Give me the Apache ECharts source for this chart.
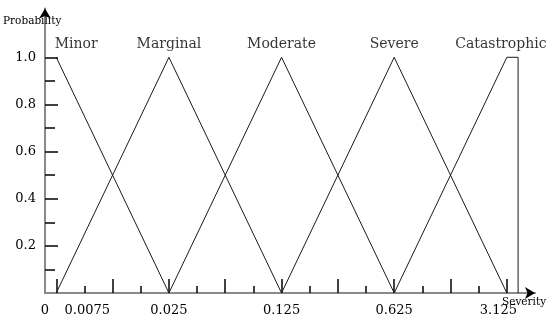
<!DOCTYPE html>
<html><head><meta charset="utf-8">
<script src="https://cdn.jsdelivr.net/npm/echarts@6/dist/echarts.min.js"></script>
<style>html,body{margin:0;padding:0;background:#fff}#c{width:550px;height:320px}</style>
</head><body><div id="c"></div>
<script>
const categories = ['Minor', 'Marginal', 'Moderate', 'Severe', 'Catastrophic'];
const peakX = [0, 4, 8, 12, 16];
const peakY = [1, 1, 1, 1, 1];
const minorPts = [[0, 1], [4, 0]];
const marginalPts = [[0, 0], [4, 1], [8, 0]];
const moderatePts = [[4, 0], [8, 1], [12, 0]];
const severePts = [[8, 0], [12, 1], [16, 0]];
const catastrophicPts = [[12, 0], [16, 1], [16.4, 1], [16.4, 0]];
const xTickLabels = ['0', '0.0075', '0.025', '0.125', '0.625', '3.125'];
const xTickLabelPos = [-0.4, 1.1, 4, 8, 12, 15.7];
const xMajorTicks = [0, 2, 4, 6, 8, 10, 12, 14, 16];
const xMinorTicks = [1, 3, 5, 7, 9, 11, 13, 15];
const yTickLabels = [0.2, 0.4, 0.6, 0.8, 1.0];
const yMajorTicks = [0.2, 0.4, 0.6, 0.8, 1.0];
const yMinorTicks = [0.1, 0.3, 0.5, 0.7, 0.9];

const FONT = 'DejaVu Serif';
const chart = echarts.init(document.getElementById('c'), null, {renderer: 'canvas'});
const XMIN = -0.4, XMAX = 17, YMIN = 0, YMAX = 1.207;
const labelOffsets = [[20, 0], [0, 0], [0, 0], [0, 0], [-6, 0]];

function lineSeries(name, pts) {
  return {
    type: 'line', name: name, data: pts, symbol: 'none', animation: false,
    lineStyle: {color: '#1a1a1a', width: 1}, z: 3
  };
}

const option = {
  animation: false,
  backgroundColor: '#fff',
  grid: {left: 45, right: 15, top: 8.5, bottom: 27},
  xAxis: [{
    type: 'value', min: XMIN, max: XMAX, position: 'bottom',
    splitLine: {show: false},
    axisLine: {show: true, onZero: false, lineStyle: {color: '#8a8a8a', width: 2}},
    axisTick: {show: true, inside: true, length: 14, customValues: xMajorTicks, lineStyle: {color: '#111', width: 1.6}},
    axisLabel: {
      show: true, customValues: xTickLabelPos, margin: 11,
      fontFamily: FONT, fontSize: 13, color: '#000',
      formatter: function (v) {
        for (let i = 0; i < xTickLabelPos.length; i++) if (Math.abs(v - xTickLabelPos[i]) < 1e-6) return xTickLabels[i];
        return '';
      }
    }
  }, {
    type: 'value', min: XMIN, max: XMAX, position: 'bottom',
    splitLine: {show: false},
    axisLine: {show: true, onZero: false, symbol: ['none', 'arrow'], symbolSize: [9, 10], lineStyle: {color: '#000', width: 0}},
    axisTick: {show: true, inside: true, length: 7, customValues: xMinorTicks, lineStyle: {color: '#111', width: 1.6}},
    axisLabel: {show: false}
  }],
  yAxis: [{
    type: 'value', min: YMIN, max: YMAX, position: 'left',
    splitLine: {show: false},
    axisLine: {show: true, onZero: false, lineStyle: {color: '#8a8a8a', width: 2}},
    axisTick: {show: true, inside: true, length: 13, customValues: yMajorTicks, lineStyle: {color: '#111', width: 1.6}},
    axisLabel: {
      show: true, customValues: yTickLabels, margin: 9,
      fontFamily: FONT, fontSize: 13, color: '#000',
      formatter: function (v) { return v.toFixed(1); }
    }
  }, {
    type: 'value', min: YMIN, max: YMAX, position: 'left',
    splitLine: {show: false},
    axisLine: {show: true, onZero: false, symbol: ['none', 'arrow'], symbolSize: [9, 10], lineStyle: {color: '#000', width: 0}},
    axisTick: {show: true, inside: true, length: 10, customValues: yMinorTicks, lineStyle: {color: '#111', width: 1.6}},
    axisLabel: {show: false}
  }],
  series: [
    lineSeries('Minor', minorPts),
    lineSeries('Marginal', marginalPts),
    lineSeries('Moderate', moderatePts),
    lineSeries('Severe', severePts),
    lineSeries('Catastrophic', catastrophicPts),
    {
      type: 'scatter', symbolSize: 0, silent: true, z: 4,
      data: categories.map(function (c, i) {
        return {name: c, value: [peakX[i], peakY[i]], label: {offset: labelOffsets[i]}};
      }),
      label: {
        show: true, position: 'top', distance: 6,
        formatter: function (p) { return p.name; },
        fontFamily: FONT, fontSize: 14, color: '#000'
      }
    }
  ],
  graphic: [
    {type: 'text', left: 3, top: 16, z: 10, style: {text: 'Probability', font: '10.5px "DejaVu Serif"', fill: '#000'}},
    {type: 'text', left: 502, top: 297, z: 10, style: {text: 'Severity', font: '10.5px "DejaVu Serif"', fill: '#000'}}
  ]
};
chart.setOption(option);
</script>
</body></html>
